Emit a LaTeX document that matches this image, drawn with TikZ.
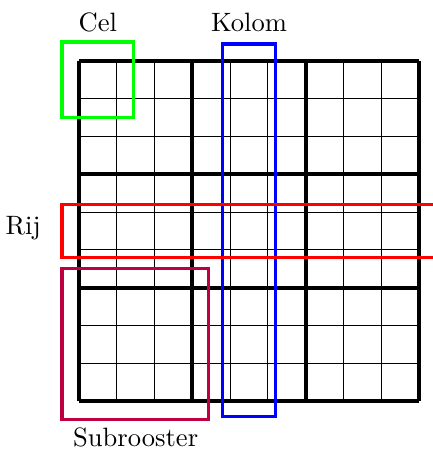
\documentclass[tikz,border=0pt]{standalone}
\usetikzlibrary{positioning}
\tikzset{
  cellline/.style={line width=0.4pt, black},
  blockline/.style={line width=1.4pt, black},
  marker/.style={line width=1.2pt},
  lbl/.style={inner sep=0pt, font=\normalsize}
}
\begin{document}
\begin{tikzpicture}[x=0.5cm, y=0.5cm]
  \useasboundingbox (-2.091,-1.297) rectangle (9.344,10.614);
  % sudoku grid: thin cell lines, then thick block lines
  \draw[cellline] (0,0) grid[step=1] (9,9);
  \draw[blockline] (0,0) grid[step=3] (9,9);
  % highlighted regions
  \draw[marker, green] (-0.45,7.5) rectangle (1.45,9.5);
  \draw[marker, blue] (3.8,-0.42) rectangle (5.2,9.45);
  \draw[marker, red] (-0.45,3.8) rectangle (9.6,5.2);
  \draw[marker, purple] (-0.45,-0.48) rectangle (3.42,3.5);
  % labels
  \node[lbl, anchor=base] (cel) at (0.5,9.79) {Cel};
  \node[lbl, anchor=base] (kolom) at (4.5,9.79) {Kolom};
  \node[lbl, anchor=base east] (rij) at (-1.0,4.41) {Rij};
  \node[lbl, anchor=base] (sub) at (1.5,-1.21) {Subrooster};
\end{tikzpicture}
\end{document}
